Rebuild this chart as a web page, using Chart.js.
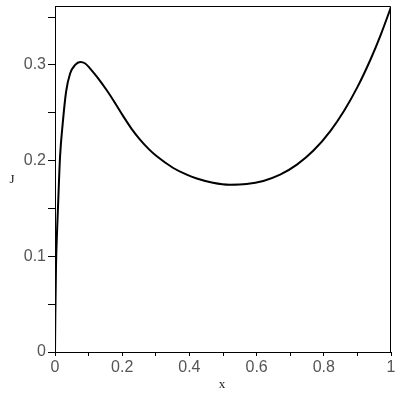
<!DOCTYPE html>
<html>
<head>
<meta charset="utf-8">
<script src="https://cdn.jsdelivr.net/npm/chart.js@4"></script>
<style>
  html, body { margin: 0; padding: 0; background: #fff; }
</style>
</head>
<body>
<canvas id="myChart" width="400" height="400"></canvas>
<script>
// curve
const xValues = [0, 0.001, 0.003, 0.006, 0.009, 0.015, 0.023, 0.033, 0.045, 0.06, 0.075, 0.09, 0.104, 0.125,
  0.154, 0.18, 0.203, 0.228, 0.253, 0.28, 0.303, 0.352, 0.392, 0.422, 0.47, 0.52, 0.57, 0.62, 0.67, 0.72,
  0.77, 0.82, 0.86, 0.9, 0.94, 0.97, 1];
const jValues = [0, 0.04, 0.09, 0.125, 0.152, 0.204, 0.239, 0.272, 0.291, 0.300, 0.303, 0.3015, 0.2965, 0.2875,
  0.2735, 0.2595, 0.2465, 0.2332, 0.222, 0.2118, 0.2045, 0.1923, 0.1853, 0.1814, 0.1769, 0.1748, 0.1755, 0.1788, 0.1853, 0.1958,
  0.2108, 0.2312, 0.2519, 0.2768, 0.3065, 0.332, 0.3605];

const xTicks = [0, 0.1, 0.2, 0.3, 0.4, 0.5, 0.6, 0.7, 0.8, 0.9, 1];
const xTickLabels = ['0', '', '0.2', '', '0.4', '', '0.6', '', '0.8', '', '1'];
const yTicks = [0, 0.05, 0.1, 0.15, 0.2, 0.25, 0.3, 0.35];
const yTickLabels = ['0', '', '0.1', '', '0.2', '', '0.3', ''];

const xTitle = 'x';
const yTitle = 'J';

let points = [];
for (let i = 0; i < xValues.length; i++) {
    points.push({ x: xValues[i], y: jValues[i] });
}

// box round the plot + the two axis names
const boxPlugin = {
    id: 'box',
    afterDraw(chart) {
        const c = chart.ctx;
        const a = chart.chartArea;
        const l = Math.round(a.left) + 0.5, r = Math.round(a.right) - 0.5;
        const t = Math.round(a.top) + 0.5, b = Math.round(a.bottom) + 0.5;
        c.save();
        c.strokeStyle = '#000';
        c.lineWidth = 1;
        c.beginPath();
        c.moveTo(l, t);
        c.lineTo(r, t);
        c.lineTo(r, b);
        c.stroke();
        c.fillStyle = '#222';
        c.font = '13px "Liberation Serif"';
        c.textAlign = 'center';
        c.textBaseline = 'middle';
        c.fillText(xTitle, (a.left + a.right) / 2 - 1, 385);
        c.fillText(yTitle, 12, 180);
        c.restore();
    }
};

const tickFont = { family: 'Liberation Sans', size: 16 };

const chart = new Chart('myChart', {
    type: 'scatter',
    data: {
        datasets: [{
            data: points,
            showLine: true,
            borderColor: '#000',
            borderWidth: 2,
            pointRadius: 0,
            cubicInterpolationMode: 'monotone',
            fill: false
        }]
    },
    options: {
        responsive: false,
        animation: false,
        layout: { padding: { top: 6, right: 9, left: 0, bottom: 0 } },
        plugins: {
            legend: { display: false },
            tooltip: { enabled: false }
        },
        scales: {
            x: {
                type: 'linear',
                min: 0,
                max: 1,
                afterFit: function (scale) {
                    scale.height = 48;
                    scale.paddingLeft = 0;
                    scale.paddingRight = 0;
                },
                afterBuildTicks: function (scale) {
                    scale.ticks = xTicks.map(v => ({ value: v }));
                },
                grid: { drawOnChartArea: false, tickLength: 4, color: '#000' },
                border: { color: '#000' },
                ticks: {
                    autoSkip: false,
                    maxRotation: 0,
                    padding: 2,
                    color: '#555',
                    font: tickFont,
                    callback: function (v, i) { return xTickLabels[i]; }
                }
            },
            y: {
                type: 'linear',
                min: 0,
                max: 0.3616,
                afterFit: function (scale) {
                    scale.width = 55;
                    scale.paddingTop = 0;
                    scale.paddingBottom = 0;
                },
                afterBuildTicks: function (scale) {
                    scale.ticks = yTicks.map(v => ({ value: v }));
                },
                grid: { drawOnChartArea: false, tickLength: 7, color: '#000' },
                border: { color: '#000' },
                ticks: {
                    autoSkip: false,
                    padding: 2,
                    color: '#555',
                    font: tickFont,
                    callback: function (v, i) { return yTickLabels[i]; }
                }
            }
        }
    },
    plugins: [boxPlugin]
});
</script>
</body>
</html>
